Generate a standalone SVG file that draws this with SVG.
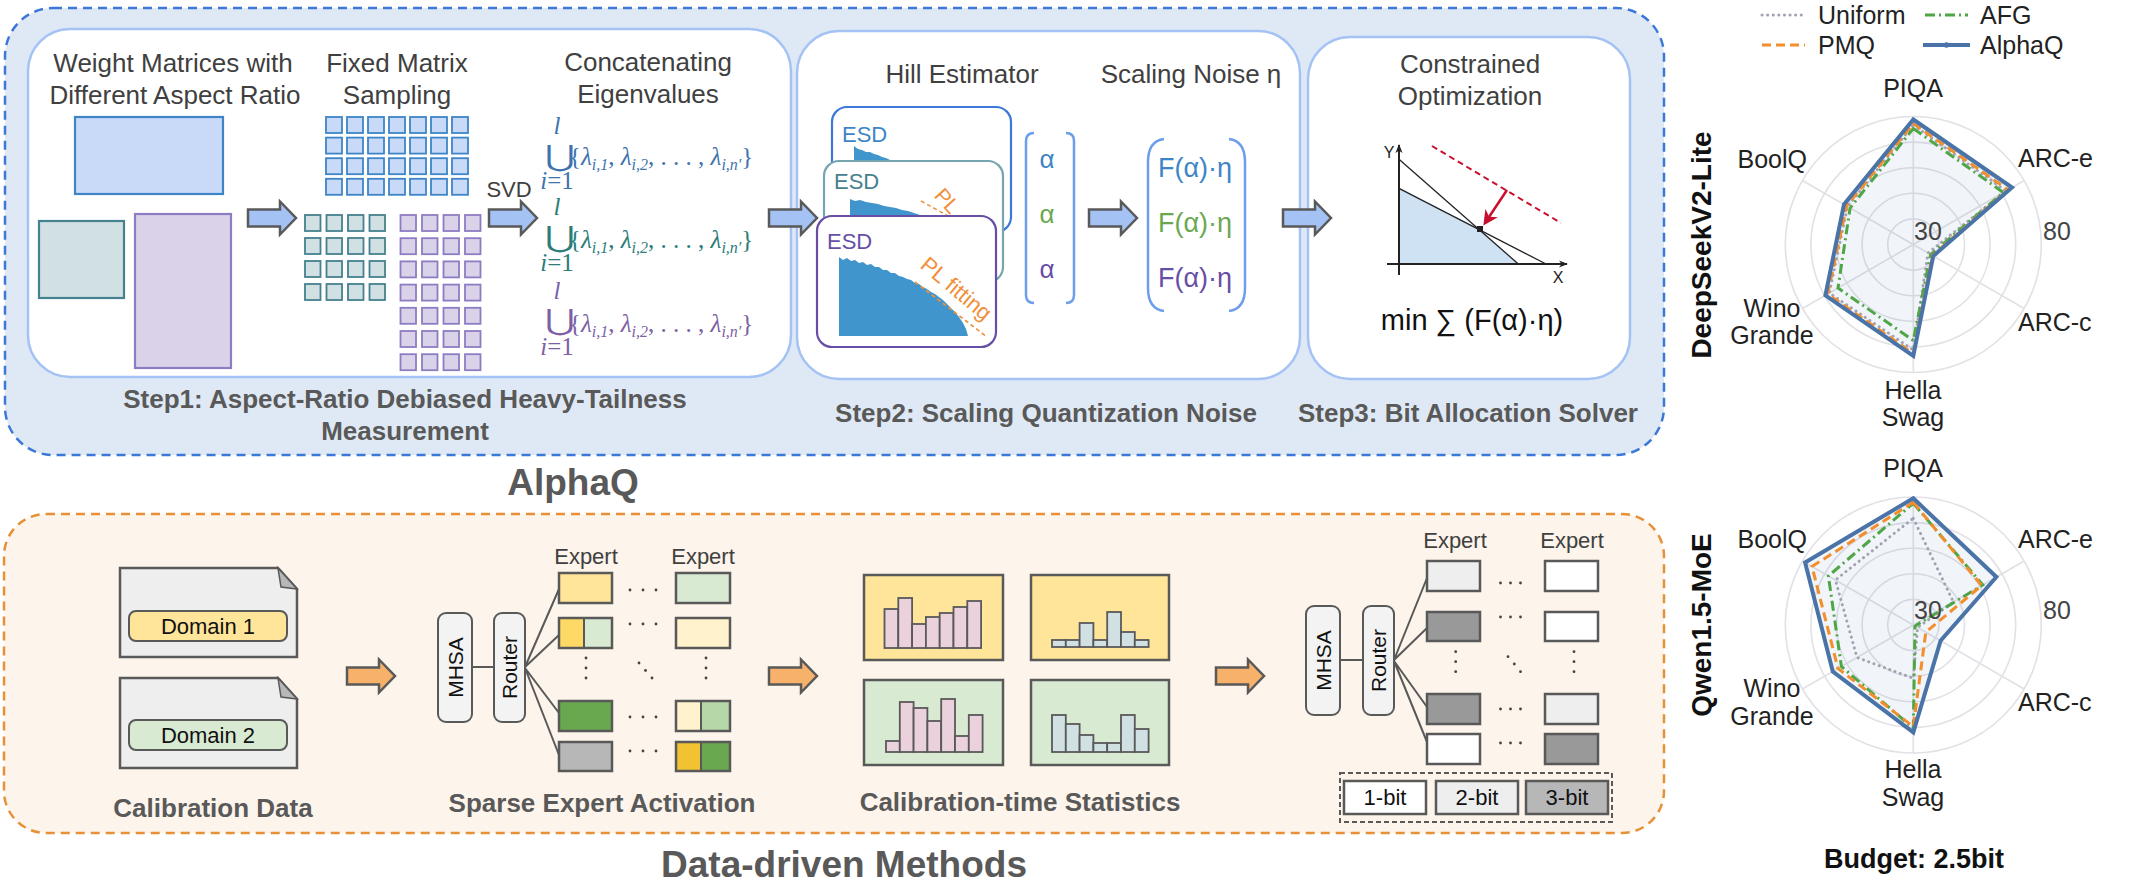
<svg xmlns="http://www.w3.org/2000/svg" width="2135" height="891" viewBox="0 0 2135 891">
<defs>
<style>
text{font-family:"Liberation Sans",Arial,sans-serif}
.title{font-size:26px;fill:#404040;text-anchor:middle}
.lbl{font-size:26px;font-weight:bold;fill:#595959;text-anchor:middle}
.big{font-size:37px;font-weight:bold;fill:#595959;text-anchor:middle}
.inner{fill:#fff;stroke:#a4c2f4;stroke-width:2.5}
.bx{stroke:#595959;stroke-width:2.5}
.arrB{fill:#a4c2f4;stroke:#595959;stroke-width:2.5}
.arrO{fill:#f6b26b;stroke:#595959;stroke-width:2.5}
.cb{fill:#c9daf8;stroke:#3d85c6;stroke-width:1.8}
.ct{fill:#d0e0e3;stroke:#45818e;stroke-width:1.8}
.cp{fill:#d9d2e9;stroke:#8e7cc3;stroke-width:1.8}
.math{font-family:"Liberation Serif","Times New Roman",serif;font-size:25px}
.it{font-style:italic}
.sub{font-size:16px;font-style:italic}
.un{font-family:"DejaVu Serif","DejaVu Sans",serif;font-size:29px}
.esd{font-size:22px}
.brk{fill:none;stroke:#6d9eeb;stroke-width:2.5}
.ex{font-size:22px;fill:#404040;text-anchor:middle}
.rot{font-size:21px;fill:#111;text-anchor:middle}
.dot{fill:#444}
.ln{stroke:#595959;stroke-width:2;fill:none}
.bar1{fill:#ead1dc;stroke:#595959;stroke-width:1.8}
.bar2{fill:#d0e0e3;stroke:#595959;stroke-width:1.8}
.rl{font-size:25px;fill:#222}
.rn{font-size:25px;fill:#444}
.ring{fill:none;stroke:#e1e1e6;stroke-width:1.6}
.alq{fill:none;stroke:#4a73a8;stroke-width:4;stroke-linejoin:miter}
.pmq{fill:none;stroke:#f28e2b;stroke-width:3;stroke-dasharray:9 5}
.afg{fill:none;stroke:#4fa646;stroke-width:3;stroke-dasharray:10 4 2 4}
.uni{fill:none;stroke:#a2a2b2;stroke-width:3;stroke-dasharray:0.1 5.5;stroke-linecap:round}
.bitt{font-size:22px;fill:#111;text-anchor:middle}
</style>
<path id="arr" d="M0,-8.5 H32 V-16.5 L48,0 L32,16.5 V8.5 H0 Z"/>
<g id="r7"><rect x="0" y="0" width="16" height="16"/><rect x="21" y="0" width="16" height="16"/><rect x="42" y="0" width="16" height="16"/><rect x="63" y="0" width="16" height="16"/><rect x="84" y="0" width="16" height="16"/><rect x="105" y="0" width="16" height="16"/><rect x="126" y="0" width="16" height="16"/></g>
<g id="r4"><rect x="0" y="0" width="15.5" height="16"/><rect x="21.5" y="0" width="15.5" height="16"/><rect x="43" y="0" width="15.5" height="16"/><rect x="64.5" y="0" width="15.5" height="16"/></g>
<g id="rgrid">
<circle class="ring" r="25.6"/><circle class="ring" r="51.2"/><circle class="ring" r="76.8"/><circle class="ring" r="102.4"/><circle class="ring" r="128"/>
<path d="M0,0 V-128 M0,0 L110.9,-64 M0,0 L110.9,64 M0,0 V128 M0,0 L-110.9,64 M0,0 L-110.9,-64" stroke="#e1e1e6" stroke-width="1.6"/>
</g>
<marker id="ah" viewBox="0 0 10 10" refX="9" refY="5" markerWidth="9" markerHeight="9" markerUnits="userSpaceOnUse" orient="auto"><path d="M0,1 L10,5 L0,9 L3,5 Z" fill="#222"/></marker>
<marker id="rh" viewBox="0 0 10 10" refX="8" refY="5" markerWidth="15" markerHeight="15" markerUnits="userSpaceOnUse" orient="auto"><path d="M0,0 L10,5 L0,10 L3,5 Z" fill="#c8102e"/></marker>
</defs>
<rect width="2135" height="891" fill="#fff"/>

<!-- Top AlphaQ panel -->
<g id="alphaq-panel">
<rect x="5" y="8" width="1659" height="447" rx="48" fill="#dfe9f5" stroke="#3c78d8" stroke-width="2.5" stroke-dasharray="9 6"/>
<text class="big" x="573" y="495">AlphaQ</text>
</g>

<g id="step1">
<rect class="inner" x="28" y="29" width="763" height="348" rx="42"/>
<text class="title" x="173" y="72">Weight Matrices with</text>
<text class="title" x="175" y="104">Different Aspect Ratio</text>
<text class="title" x="397" y="72">Fixed Matrix</text>
<text class="title" x="397" y="104">Sampling</text>
<text class="title" x="648" y="71">Concatenating</text>
<text class="title" x="648" y="103">Eigenvalues</text>
<rect x="75" y="117" width="148" height="77" fill="#c9daf8" stroke="#3d85c6" stroke-width="2.2"/>
<rect x="39" y="221" width="85" height="77" fill="#d0e0e3" stroke="#45818e" stroke-width="2.2"/>
<rect x="135" y="214" width="96" height="154" fill="#d9d2e9" stroke="#8e7cc3" stroke-width="2.2"/>
<use href="#r7" x="326" y="117" class="cb"/>
<use href="#r7" x="326" y="137.6" class="cb"/>
<use href="#r7" x="326" y="158.2" class="cb"/>
<use href="#r7" x="326" y="178.8" class="cb"/>
<use href="#r4" x="305" y="215" class="ct"/>
<use href="#r4" x="305" y="238" class="ct"/>
<use href="#r4" x="305" y="261" class="ct"/>
<use href="#r4" x="305" y="284" class="ct"/>
<use href="#r4" x="400.5" y="215" class="cp"/>
<use href="#r4" x="400.5" y="238.2" class="cp"/>
<use href="#r4" x="400.5" y="261.4" class="cp"/>
<use href="#r4" x="400.5" y="284.6" class="cp"/>
<use href="#r4" x="400.5" y="307.8" class="cp"/>
<use href="#r4" x="400.5" y="331" class="cp"/>
<use href="#r4" x="400.5" y="354.2" class="cp"/>
<text x="509" y="197" font-size="22" fill="#404040" text-anchor="middle">SVD</text>
<g fill="#3f73ad">
<text class="un" transform="translate(545,166) scale(1.25,1)">⋃</text>
<text class="math it" x="557" y="134" font-size="15" text-anchor="middle">l</text>
<text class="math" x="557" y="189" font-size="15" text-anchor="middle"><tspan class="it">i</tspan>=1</text>
<text class="math" x="569" y="165">{<tspan class="it">λ</tspan><tspan class="sub" dy="5">i,1</tspan><tspan dy="-5">, </tspan><tspan class="it">λ</tspan><tspan class="sub" dy="5">i,2</tspan><tspan dy="-5">, . . . , </tspan><tspan class="it">λ</tspan><tspan class="sub" dy="5">i,n′</tspan><tspan dy="-5">}</tspan></text>
</g>
<g fill="#2b7d78">
<text class="un" transform="translate(545,247) scale(1.25,1)">⋃</text>
<text class="math it" x="557" y="215" font-size="15" text-anchor="middle">l</text>
<text class="math" x="557" y="271" font-size="15" text-anchor="middle"><tspan class="it">i</tspan>=1</text>
<text class="math" x="569" y="248">{<tspan class="it">λ</tspan><tspan class="sub" dy="5">i,1</tspan><tspan dy="-5">, </tspan><tspan class="it">λ</tspan><tspan class="sub" dy="5">i,2</tspan><tspan dy="-5">, . . . , </tspan><tspan class="it">λ</tspan><tspan class="sub" dy="5">i,n′</tspan><tspan dy="-5">}</tspan></text>
</g>
<g fill="#7d5fa5">
<text class="un" transform="translate(545,330) scale(1.25,1)">⋃</text>
<text class="math it" x="557" y="299" font-size="15" text-anchor="middle">l</text>
<text class="math" x="557" y="355" font-size="15" text-anchor="middle"><tspan class="it">i</tspan>=1</text>
<text class="math" x="569" y="332">{<tspan class="it">λ</tspan><tspan class="sub" dy="5">i,1</tspan><tspan dy="-5">, </tspan><tspan class="it">λ</tspan><tspan class="sub" dy="5">i,2</tspan><tspan dy="-5">, . . . , </tspan><tspan class="it">λ</tspan><tspan class="sub" dy="5">i,n′</tspan><tspan dy="-5">}</tspan></text>
</g>
<text class="lbl" x="405" y="408">Step1: Aspect-Ratio Debiased Heavy-Tailness</text>
<text class="lbl" x="405" y="440">Measurement</text>
</g>

<g id="step2">
<rect class="inner" x="797" y="31" width="503" height="348" rx="42"/>
<text class="title" x="962" y="83">Hill Estimator</text>
<text class="title" x="1191" y="83">Scaling Noise η</text>
<rect x="832" y="107" width="179" height="125" rx="15" fill="#fff" stroke="#3c78d8" stroke-width="2.2"/>
<text class="esd" x="842" y="142" fill="#3d85c6">ESD</text>
<path d="M854,175 V146 L858,149 L862,150 L866,152 L870,152 L874,154 L878,155 L882,157 L886,158 L890,160 L894,175 Z" fill="#4195cd"/>
<rect x="824" y="161" width="179" height="121" rx="15" fill="#fff" stroke="#76a5af" stroke-width="2.2"/>
<text class="esd" x="834" y="189" fill="#45818e">ESD</text>
<path d="M850,240 V199 L855,201 L860,200 L866,202 L872,203 L878,204 L884,206 L890,207 L896,208 L902,210 L908,211 L914,213 L920,215 L926,217 L932,220 L932,240 Z" fill="#4195cd"/>
<line x1="921" y1="201" x2="950" y2="217" stroke="#f0903a" stroke-width="1.5" stroke-dasharray="4 3"/>
<text transform="translate(947,201) rotate(48)" text-anchor="middle" y="7" font-size="21" fill="#f0903a">PL</text>
<rect x="817" y="216" width="179" height="131" rx="15" fill="#fff" stroke="#674ea7" stroke-width="2.2"/>
<text class="esd" x="827" y="249" fill="#674ea7">ESD</text>
<path d="M839,336 V257 L843,260 L847,258 L851,261 L855,260 L859,263 L863,262 L867,265 L871,264 L875,267 L879,267 L883,270 L887,270 L891,273 L895,273 L899,276 L903,277 L907,279 L911,280 L915,283 L919,284 L923,287 L927,289 L931,292 L935,294 L939,297 L943,300 L947,304 L951,308 L955,312 L959,317 L963,323 L966,329 L968,336 Z" fill="#4195cd"/>
<line x1="915" y1="282" x2="987" y2="337" stroke="#f0903a" stroke-width="1.6" stroke-dasharray="4 3"/>
<text transform="translate(956,289) rotate(40)" text-anchor="middle" y="7" font-size="22" fill="#f0903a">PL fitting</text>
<path class="brk" d="M1034,133 Q1026,133 1026,141 V295 Q1026,303 1034,303"/>
<path class="brk" d="M1066,133 Q1074,133 1074,141 V295 Q1074,303 1066,303"/>
<text x="1047" y="168" font-size="26" fill="#3d85c6" text-anchor="middle">α</text>
<text x="1047" y="223" font-size="26" fill="#6aa84f" text-anchor="middle">α</text>
<text x="1047" y="278" font-size="26" fill="#674ea7" text-anchor="middle">α</text>
<path class="brk" d="M1164,139 Q1148,141 1148,162 V288 Q1148,309 1164,311"/>
<path class="brk" d="M1229,139 Q1245,141 1245,162 V288 Q1245,309 1229,311"/>
<text x="1195" y="177" font-size="27" fill="#3d85c6" text-anchor="middle">F(α)·η</text>
<text x="1195" y="232" font-size="27" fill="#6aa84f" text-anchor="middle">F(α)·η</text>
<text x="1195" y="287" font-size="27" fill="#674ea7" text-anchor="middle">F(α)·η</text>
<text class="lbl" x="1046" y="422">Step2: Scaling Quantization Noise</text>
</g>

<g id="step3">
<rect class="inner" x="1308" y="37" width="322" height="342" rx="42"/>
<text class="title" x="1470" y="73">Constrained</text>
<text class="title" x="1470" y="105">Optimization</text>
<polygon points="1399,188.3 1480,229 1518.3,264 1399,264" fill="#cfe2f3"/>
<line x1="1399" y1="159.3" x2="1518.3" y2="264" stroke="#222" stroke-width="1.3"/>
<line x1="1399" y1="188.3" x2="1546" y2="264" stroke="#222" stroke-width="1.3"/>
<line x1="1399" y1="275" x2="1399" y2="145" stroke="#222" stroke-width="2" marker-end="url(#ah)"/>
<line x1="1387" y1="264" x2="1567" y2="264" stroke="#222" stroke-width="2" marker-end="url(#ah)"/>
<text x="1389" y="158" font-size="16" fill="#222" text-anchor="middle">Y</text>
<text x="1558" y="283" font-size="16" fill="#222" text-anchor="middle">X</text>
<line x1="1432" y1="146" x2="1561" y2="223" stroke="#c8102e" stroke-width="2" stroke-dasharray="6 4"/>
<line x1="1507" y1="190" x2="1485" y2="223" stroke="#c8102e" stroke-width="2.5" marker-end="url(#rh)"/>
<rect x="1477" y="226" width="6" height="6" fill="#222"/>
<text x="1472" y="330" font-size="29" fill="#111" text-anchor="middle">min ∑ (F(α)·η)</text>
<text class="lbl" x="1468" y="422">Step3: Bit Allocation Solver</text>
</g>

<!-- Bottom Data-driven panel -->
<g id="datadriven-panel">
<rect x="4" y="514" width="1660" height="319" rx="42" fill="#fdf4eb" stroke="#e69138" stroke-width="2.5" stroke-dasharray="9 6"/>
<text class="big" x="844" y="877">Data-driven Methods</text>
</g>

<g id="calibration-data">
<path class="bx" d="M120,568 H278 L297,589 V657 H120 Z" fill="#eeeeee"/>
<path d="M278,568 L297,589 L281,587 Z" fill="#b7b7b7" stroke="#595959" stroke-width="1.5"/>
<rect x="129" y="611" width="158" height="30" rx="7" fill="#ffe599" stroke="#595959" stroke-width="2"/>
<text x="208" y="634" font-size="22" fill="#111" text-anchor="middle">Domain 1</text>
<path class="bx" d="M120,678 H278 L297,699 V768 H120 Z" fill="#eeeeee"/>
<path d="M278,678 L297,699 L281,697 Z" fill="#b7b7b7" stroke="#595959" stroke-width="1.5"/>
<rect x="129" y="720" width="158" height="30" rx="7" fill="#d9ead3" stroke="#595959" stroke-width="2"/>
<text x="208" y="743" font-size="22" fill="#111" text-anchor="middle">Domain 2</text>
<text class="lbl" x="213" y="817">Calibration Data</text>
</g>

<g id="sparse-expert-activation">
<rect x="438" y="613" width="34" height="109" rx="8" fill="#f3f3f3" stroke="#595959" stroke-width="2"/>
<text class="rot" transform="translate(462.5,667.5) rotate(-90)">MHSA</text>
<rect x="494" y="613" width="31" height="109" rx="8" fill="#f3f3f3" stroke="#595959" stroke-width="2"/>
<text class="rot" transform="translate(517,667.5) rotate(-90)">Router</text>
<path class="ln" d="M472,667 H494 M525,667 L559,589 M525,667 L559,635 M525,668 L559,713 M525,668 L559,755"/>
<text class="ex" x="586" y="564">Expert</text>
<text class="ex" x="703" y="564">Expert</text>
<rect class="bx" x="559" y="573" width="53" height="30" fill="#ffe599" stroke-width="2"/>
<rect x="559" y="618" width="25" height="30" fill="#ffd966"/>
<rect x="584" y="618" width="28" height="30" fill="#d9ead3"/>
<path class="ln" d="M584,618 V648"/>
<rect class="bx" x="559" y="618" width="53" height="30" fill="none" stroke-width="2"/>
<rect class="bx" x="559" y="701" width="53" height="30" fill="#6aa84f" stroke-width="2"/>
<rect class="bx" x="559" y="742" width="53" height="29" fill="#b7b7b7" stroke-width="2"/>
<rect class="bx" x="676" y="573" width="54" height="30" fill="#d9ead3" stroke-width="2"/>
<rect class="bx" x="676" y="618" width="54" height="30" fill="#fff2cc" stroke-width="2"/>
<rect x="676" y="701" width="25" height="30" fill="#fff2cc"/>
<rect x="701" y="701" width="29" height="30" fill="#b6d7a8"/>
<path class="ln" d="M701,701 V731"/>
<rect class="bx" x="676" y="701" width="54" height="30" fill="none" stroke-width="2"/>
<rect x="676" y="742" width="25" height="29" fill="#f1c232"/>
<rect x="701" y="742" width="29" height="29" fill="#6aa84f"/>
<path class="ln" d="M701,742 V771"/>
<rect class="bx" x="676" y="742" width="54" height="29" fill="none" stroke-width="2"/>
<g class="dot">
<circle cx="630" cy="590" r="1.4"/><circle cx="643" cy="590" r="1.4"/><circle cx="656" cy="590" r="1.4"/>
<circle cx="630" cy="624" r="1.4"/><circle cx="643" cy="624" r="1.4"/><circle cx="656" cy="624" r="1.4"/>
<circle cx="630" cy="717" r="1.4"/><circle cx="643" cy="717" r="1.4"/><circle cx="656" cy="717" r="1.4"/>
<circle cx="630" cy="751" r="1.4"/><circle cx="643" cy="751" r="1.4"/><circle cx="656" cy="751" r="1.4"/>
<circle cx="586" cy="658" r="1.4"/><circle cx="586" cy="668" r="1.4"/><circle cx="586" cy="678" r="1.4"/>
<circle cx="706" cy="658" r="1.4"/><circle cx="706" cy="668" r="1.4"/><circle cx="706" cy="678" r="1.4"/>
<circle cx="639" cy="663" r="1.4"/><circle cx="645.5" cy="670.5" r="1.4"/><circle cx="652" cy="678" r="1.4"/>
</g>
<text class="lbl" x="602" y="812">Sparse Expert Activation</text>
</g>

<g id="calibration-statistics">
<rect class="bx" x="864" y="575" width="139" height="85" fill="#ffe599"/>
<rect class="bx" x="1031" y="575" width="138" height="85" fill="#ffe599"/>
<rect class="bx" x="864" y="680" width="139" height="85" fill="#d9ead3"/>
<rect class="bx" x="1031" y="680" width="138" height="85" fill="#d9ead3"/>
<g class="bar1">
<rect x="884.5" y="609" width="13.8" height="39"/><rect x="898.3" y="598" width="13.8" height="50"/><rect x="912.1" y="624" width="13.8" height="24"/><rect x="925.9" y="617" width="13.8" height="31"/><rect x="939.7" y="613" width="13.8" height="35"/><rect x="953.5" y="607" width="13.8" height="41"/><rect x="967.3" y="601" width="13.8" height="47"/>
<rect x="886" y="741" width="13.8" height="11"/><rect x="899.8" y="702" width="13.8" height="50"/><rect x="913.6" y="708" width="13.8" height="44"/><rect x="927.4" y="721" width="13.8" height="31"/><rect x="941.2" y="699" width="13.8" height="53"/><rect x="955" y="736" width="13.8" height="16"/><rect x="968.8" y="715" width="13.8" height="37"/>
</g>
<g class="bar2">
<rect x="1052" y="640" width="13.8" height="7"/><rect x="1065.8" y="640" width="13.8" height="7"/><rect x="1079.6" y="623" width="13.8" height="24"/><rect x="1093.4" y="640" width="13.8" height="7"/><rect x="1107.2" y="612" width="13.8" height="35"/><rect x="1121" y="632" width="13.8" height="15"/><rect x="1134.8" y="640" width="13.8" height="7"/>
<rect x="1052" y="715" width="13.8" height="37"/><rect x="1065.8" y="724" width="13.8" height="28"/><rect x="1079.6" y="735" width="13.8" height="17"/><rect x="1093.4" y="743" width="13.8" height="9"/><rect x="1107.2" y="743" width="13.8" height="9"/><rect x="1121" y="715" width="13.8" height="37"/><rect x="1134.8" y="729" width="13.8" height="23"/>
</g>
<text class="lbl" x="1020" y="811">Calibration-time Statistics</text>
</g>

<g id="mixed-precision-moe">
<rect x="1306" y="606" width="34" height="109" rx="8" fill="#f3f3f3" stroke="#595959" stroke-width="2"/>
<text class="rot" transform="translate(1330.5,660.5) rotate(-90)">MHSA</text>
<rect x="1363" y="606" width="31" height="109" rx="8" fill="#f3f3f3" stroke="#595959" stroke-width="2"/>
<text class="rot" transform="translate(1386,660.5) rotate(-90)">Router</text>
<path class="ln" d="M1340,660 H1363 M1394,660 L1427,578 M1394,660 L1427,628 M1394,661 L1427,707 M1394,661 L1427,742"/>
<text class="ex" x="1455" y="548">Expert</text>
<text class="ex" x="1572" y="548">Expert</text>
<rect class="bx" x="1427" y="561" width="53" height="30" fill="#eeeeee" stroke-width="2"/>
<rect class="bx" x="1427" y="612" width="53" height="29" fill="#999999" stroke-width="2"/>
<rect class="bx" x="1427" y="694" width="53" height="30" fill="#999999" stroke-width="2"/>
<rect class="bx" x="1427" y="734" width="53" height="30" fill="#ffffff" stroke-width="2"/>
<rect class="bx" x="1545" y="561" width="53" height="30" fill="#ffffff" stroke-width="2"/>
<rect class="bx" x="1545" y="612" width="53" height="29" fill="#ffffff" stroke-width="2"/>
<rect class="bx" x="1545" y="694" width="53" height="30" fill="#eeeeee" stroke-width="2"/>
<rect class="bx" x="1545" y="734" width="53" height="30" fill="#999999" stroke-width="2"/>
<g class="dot">
<circle cx="1500.5" cy="583" r="1.4"/><circle cx="1510.5" cy="583" r="1.4"/><circle cx="1520.5" cy="583" r="1.4"/>
<circle cx="1500.5" cy="617" r="1.4"/><circle cx="1510.5" cy="617" r="1.4"/><circle cx="1520.5" cy="617" r="1.4"/>
<circle cx="1500.5" cy="709" r="1.4"/><circle cx="1510.5" cy="709" r="1.4"/><circle cx="1520.5" cy="709" r="1.4"/>
<circle cx="1500.5" cy="743" r="1.4"/><circle cx="1510.5" cy="743" r="1.4"/><circle cx="1520.5" cy="743" r="1.4"/>
<circle cx="1455.7" cy="651.7" r="1.4"/><circle cx="1455.7" cy="661.7" r="1.4"/><circle cx="1455.7" cy="671.7" r="1.4"/>
<circle cx="1574" cy="651.7" r="1.4"/><circle cx="1574" cy="661.7" r="1.4"/><circle cx="1574" cy="671.7" r="1.4"/>
<circle cx="1508" cy="656.7" r="1.4"/><circle cx="1514.3" cy="664" r="1.4"/><circle cx="1520.5" cy="671.7" r="1.4"/>
</g>
<rect x="1340" y="773" width="272" height="49" fill="none" stroke="#595959" stroke-width="2" stroke-dasharray="5 3"/>
<rect class="bx" x="1344" y="781" width="82" height="33" fill="#ffffff" stroke-width="2"/>
<rect class="bx" x="1436" y="781" width="82" height="33" fill="#eeeeee" stroke-width="2"/>
<rect class="bx" x="1526" y="781" width="82" height="33" fill="#b7b7b7" stroke-width="2"/>
<text class="bitt" x="1385" y="805">1-bit</text>
<text class="bitt" x="1477" y="805">2-bit</text>
<text class="bitt" x="1567" y="805">3-bit</text>
</g>

<g id="connectors">
<use href="#arr" class="arrB" transform="translate(248,218)"/>
<use href="#arr" class="arrB" transform="translate(489,218)"/>
<use href="#arr" class="arrB" transform="translate(769,218)"/>
<use href="#arr" class="arrB" transform="translate(1089,218)"/>
<use href="#arr" class="arrB" transform="translate(1283,218)"/>
<use href="#arr" class="arrO" transform="translate(347,676)"/>
<use href="#arr" class="arrO" transform="translate(769,676)"/>
<use href="#arr" class="arrO" transform="translate(1216,676)"/>
</g>

<!-- Radar legend -->
<g id="radar-legend">
<line x1="1762" y1="15" x2="1803" y2="15" class="uni"/>
<text class="rl" x="1818" y="24">Uniform</text>
<line x1="1925" y1="15" x2="1968" y2="15" class="afg"/>
<text class="rl" x="1980" y="24">AFG</text>
<line x1="1762" y1="45" x2="1805" y2="45" class="pmq"/>
<text class="rl" x="1818" y="54">PMQ</text>
<line x1="1923" y1="45" x2="1970" y2="45" class="alq"/>
<circle cx="1946.5" cy="45" r="2.8" fill="#4a73a8"/>
<text class="rl" x="1980" y="54">AlphaQ</text>
</g>

<g id="radar-deepseek">
<use href="#rgrid" transform="translate(1913.3,244.5)"/>
<polygon points="1913.3,119.5 2012,187.5 1933.2,256 1913.3,356 1825.4,295.3 1844,204.5" fill="#4a73a8" fill-opacity="0.08"/>
<polygon class="uni" points="1913.3,125 2006,191 1928,253 1913.3,350 1829.3,293 1847.5,206.5"/>
<polygon class="afg" points="1913.3,128.5 2003.4,192.5 1930.6,254.5 1913.3,340.5 1838,288 1850.1,208"/>
<polygon class="pmq" points="1913.3,123.5 2008.1,189.8 1932.4,255.5 1913.3,353.5 1827.6,294 1846.6,206"/>
<polygon class="alq" points="1913.3,119.5 2012,187.5 1933.2,256 1913.3,356 1825.4,295.3 1844,204.5"/>
<text class="rn" x="1914" y="240">30</text>
<text class="rn" x="2043" y="240">80</text>
<text class="rl" x="1913" y="97" text-anchor="middle">PIQA</text>
<text class="rl" x="2018" y="167">ARC-e</text>
<text class="rl" x="2018" y="331">ARC-c</text>
<text class="rl" x="1807" y="168" text-anchor="end">BoolQ</text>
<text class="rl" x="1772" y="317" text-anchor="middle">Wino</text>
<text class="rl" x="1772" y="344" text-anchor="middle">Grande</text>
<text class="rl" x="1913" y="399" text-anchor="middle">Hella</text>
<text class="rl" x="1913" y="426" text-anchor="middle">Swag</text>
<text transform="translate(1711,245) rotate(-90)" text-anchor="middle" font-size="28" font-weight="bold" fill="#111">DeepSeekV2-Lite</text>
</g>

<g id="radar-qwen">
<use href="#rgrid" transform="translate(1913.3,625)"/>
<polygon points="1913.3,498.3 1996.4,577 1940.6,640.8 1913.3,732.3 1832.8,671.5 1805.1,562.5" fill="#4a73a8" fill-opacity="0.08"/>
<polygon class="uni" points="1913.3,518.3 1953.4,601.9 1917.6,627.5 1913.3,678.3 1857,657.5 1835.4,580"/>
<polygon class="afg" points="1913.3,503.3 1982.8,584.9 1915,626 1913.3,728.3 1841.4,666.5 1828.4,576"/>
<polygon class="pmq" points="1913.3,502.3 1981.7,585.5 1925.8,632.2 1913.3,726.7 1838,668.5 1812,566.5"/>
<polygon class="alq" points="1913.3,498.3 1996.4,577 1940.6,640.8 1913.3,732.3 1832.8,671.5 1805.1,562.5"/>
<text class="rn" x="1914" y="619">30</text>
<text class="rn" x="2043" y="619">80</text>
<text class="rl" x="1913" y="477" text-anchor="middle">PIQA</text>
<text class="rl" x="2018" y="548">ARC-e</text>
<text class="rl" x="2018" y="711">ARC-c</text>
<text class="rl" x="1807" y="548" text-anchor="end">BoolQ</text>
<text class="rl" x="1772" y="697" text-anchor="middle">Wino</text>
<text class="rl" x="1772" y="725" text-anchor="middle">Grande</text>
<text class="rl" x="1913" y="778" text-anchor="middle">Hella</text>
<text class="rl" x="1913" y="806" text-anchor="middle">Swag</text>
<text transform="translate(1711,625) rotate(-90)" text-anchor="middle" font-size="28" font-weight="bold" fill="#111">Qwen1.5-MoE</text>
<text x="1914" y="868" text-anchor="middle" font-size="27" font-weight="bold" fill="#111">Budget: 2.5bit</text>
</g>
</svg>
